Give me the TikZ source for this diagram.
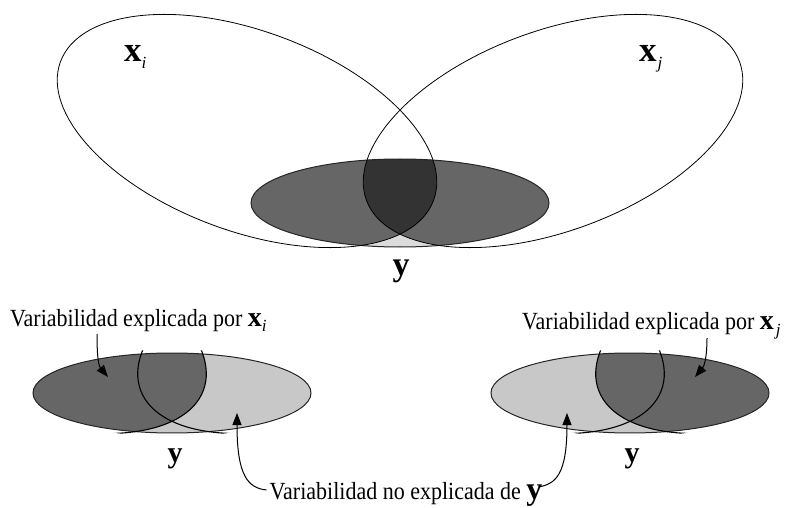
\documentclass[tikz,border=0pt]{standalone}
\usepackage{fontspec}
\setmainfont{Liberation Serif}
\usetikzlibrary{arrows.meta}
\definecolor{midgray}{HTML}{666666}
\definecolor{deepgray}{HTML}{333333}
\definecolor{palegray}{HTML}{DCDCDC}
\definecolor{lightgraytwo}{HTML}{C8C8C8}
\newcommand{\ellY}{(0,0) ellipse [x radius=149, y radius=44]}
\newcommand{\ellBig}{(0,0) ellipse [x radius=199, y radius=100]}
\newcommand{\bottomPanel}[2]{%
\begin{scope}[shift={#1},xscale=0.933,yscale=0.909]
  \fill[lightgraytwo] \ellY;
  \begin{scope}
    \clip \ellY;
    \fill[midgray,#2] \ellBig;
  \end{scope}
  \draw[yline] \ellY;
  \begin{scope}
    \clip (0,0) ellipse [x radius=149, y radius=48];
    \draw[bigline,line width=1.1pt,xiT] \ellBig;
    \draw[bigline,line width=1.1pt,xjT] \ellBig;
  \end{scope}
\end{scope}}
\begin{document}
\begin{tikzpicture}[x=1pt,y=-1pt,
  xiT/.style={shift={(-153,-72)},rotate=-20.4},
  xjT/.style={shift={(153,-72)},rotate=20.4},
  bigline/.style={draw=black,line width=0.8pt},
  yline/.style={draw=black!85,line width=1pt},
  arr/.style={line width=1pt,-{Triangle[length=12pt,width=9pt]}},
  txt/.style={inner sep=0pt,font=\fontsize{22}{26}\selectfont},
  big/.style={inner sep=0pt,anchor=base}]
\fill[white] (0,0) rectangle (801,508);
\useasboundingbox (0,0) rectangle (801,508);

% top diagram
\begin{scope}[shift={(400,203)}]
  \fill[palegray] \ellY;
  \begin{scope}
    \clip \ellY;
    \fill[midgray,xiT] \ellBig;
    \fill[midgray,xjT] \ellBig;
    \clip[xiT] \ellBig;
    \fill[deepgray,xjT] \ellBig;
  \end{scope}
  \draw[yline] \ellY;
  \draw[bigline,xiT] \ellBig;
  \draw[bigline,xjT] \ellBig;
\end{scope}

\node[inner sep=0pt,anchor=base west] (labXi) at (124,62)
  {{\fontsize{35}{35}\selectfont\bfseries x}\raisebox{-7pt}{\fontsize{17}{17}\selectfont\itshape i}};
\node[inner sep=0pt,anchor=base west] (labXj) at (639,62)
  {{\fontsize{35}{35}\selectfont\bfseries x}\raisebox{-7pt}{\fontsize{17}{17}\selectfont\itshape\hspace{1pt}j}};
\node[big] (labYtop) at (401,275.5) {\fontsize{34}{34}\selectfont\bfseries y};

% bottom diagrams
\bottomPanel{(172,393)}{xiT}
\bottomPanel{(630,393)}{xjT}
\node[big] (labYL) at (175,462) {\fontsize{30}{30}\selectfont\bfseries y};
\node[big] (labYR) at (632,462) {\fontsize{30}{30}\selectfont\bfseries y};

% labels
\node[txt,anchor=base west] (lblXi) at (10,326)
  {\scalebox{1}[1.12]{Variabilidad explicada por} {\fontsize{28}{28}\selectfont\bfseries x}\raisebox{-5pt}{\fontsize{17}{17}\selectfont\itshape i}};
\node[txt,anchor=base west] (lblXj) at (522,329)
  {\scalebox{1}[1.12]{Variabilidad explicada por} {\fontsize{28}{28}\selectfont\bfseries x}\raisebox{-6pt}{\fontsize{17}{17}\selectfont\itshape\hspace{2pt}j}};
\node[txt,anchor=base] (lblY) at (406,499)
  {\scalebox{1}[1.12]{Variabilidad no explicada de} {\fontsize{32}{32}\selectfont\bfseries y}};

\coordinate (tipL) at (108,377);
\coordinate (tipR) at (695,377);
\coordinate (tipBL) at (237,413);
\coordinate (tipBR) at (567,413);

\draw[arr] ([shift={(87,8)}]lblXi.base west) .. controls +(0,18) and +(-10,-12) .. (tipL);
\draw[arr] ([shift={(185,9)}]lblXj.base west) .. controls +(0,16) and +(10,-12) .. (tipR);
\draw[arr] ([shift={(-3,-9)}]lblY.base west) .. controls +(-19,-2) and +(0,62) .. (tipBL);
\draw[arr] ([shift={(-4,-12)}]lblY.base east) .. controls +(17,-3) and +(0,62) .. (tipBR);
\end{tikzpicture}
\end{document}
